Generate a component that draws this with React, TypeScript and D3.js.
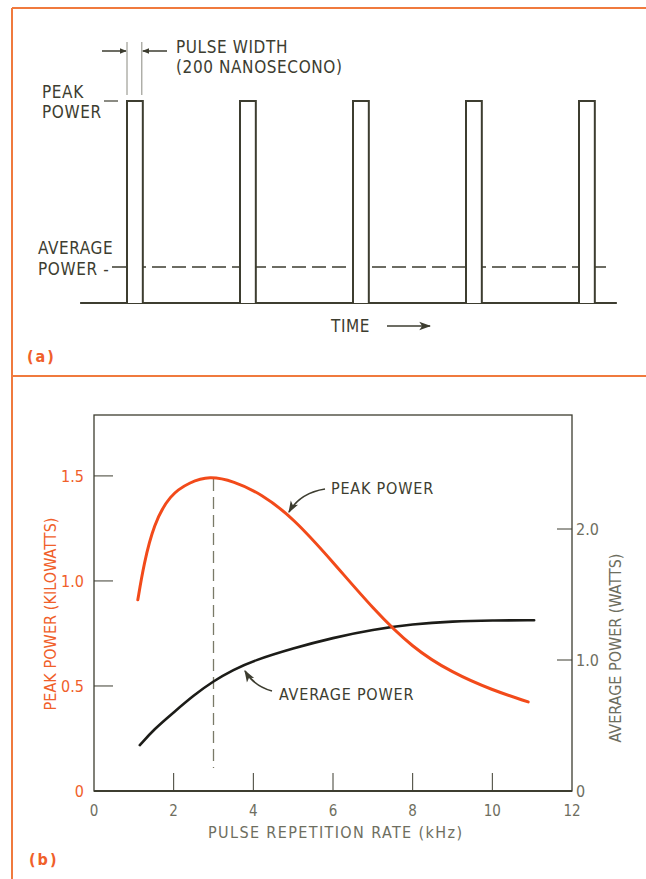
import React from "react";
import * as d3 from "d3";

// ---- Data ----
// (a) pulse train (time in pulse periods)
const pulseTimes = [1, 2, 3, 4, 5];
const pulseWidthT = 0.14;
const peakLevel = 1.0;
const averageLevel = 0.178;

// (b) curves
const peakX = [1.1, 1.25, 1.5, 1.9, 2.4, 2.9, 3.5, 4.2, 5.0, 6.0, 7.0, 8.0, 9.0, 10.0, 10.9];
const peakKW = [0.91, 1.08, 1.27, 1.41, 1.47, 1.5, 1.475, 1.415, 1.3, 1.09, 0.868, 0.68, 0.562, 0.48, 0.424];
const avgX = [1.15, 1.5, 2.0, 2.5, 3.0, 3.5, 4.0, 5.0, 6.0, 7.0, 8.0, 9.0, 10.0, 11.05];
const avgW = [0.35, 0.47, 0.6, 0.73, 0.84, 0.925, 0.995, 1.09, 1.17, 1.232, 1.274, 1.295, 1.302, 1.304];
const xTicks = [0, 2, 4, 6, 8, 10, 12];
const leftTicks = [0, 0.5, 1.0, 1.5];
const rightTicks = [0, 1.0, 2.0];
const markerX = 3.0;

const FONT = "'Liberation Sans Narrow','DejaVu Sans Condensed','Roboto Condensed',Arial,sans-serif";
const DARK = "#3d3d30";
const GRAY = "#6e6e60";
const ORANGE = "#f0602a";
const CURVE_OR = "#f24a1a";
const FRAME = "#f07a3e";

export default function App() {
  // top panel scales
  const tx = d3.scaleLinear().domain([0, 5]).range([14, 579]);
  const ty = d3.scaleLinear().domain([0, 1]).range([303, 101]);

  // bottom panel scales
  const x = d3.scaleLinear().domain([0, 12]).range([94, 572]);
  const yL = d3.scaleLinear().domain([0, 1.79]).range([791, 415]);
  const yR = d3.scaleLinear().domain([0, 1]).range([791, 660]);

  const peakLine = d3
    .line<number>()
    .x((_, i) => x(peakX[i]))
    .y((d) => yL(d))
    .curve(d3.curveBasis);
  const avgLine = d3
    .line<number>()
    .x((_, i) => x(avgX[i]))
    .y((d) => yR(d))
    .curve(d3.curveBasis);

  const pw = tx(pulseWidthT) - tx(0);

  return (
    <svg
      width={646}
      height={879}
      style={{ position: "absolute", left: 0, top: 0, background: "#fff" }}
      fontFamily={FONT}
    >
      <defs>
        <marker id="ah" viewBox="0 0 10 10" refX="9" refY="5" markerWidth="7" markerHeight="7" orient="auto-start-reverse" markerUnits="userSpaceOnUse">
          <path d="M0,1 L10,5 L0,9 z" fill={DARK} />
        </marker>
        <marker id="ah2" viewBox="0 0 10 10" refX="9" refY="5" markerWidth="12" markerHeight="12" orient="auto" markerUnits="userSpaceOnUse">
          <path d="M0,1.5 L10,5 L0,8.5 L2.5,5 z" fill={DARK} />
        </marker>
      </defs>

      {/* frame */}
      <line x1={12} y1={8} x2={646} y2={8} stroke={FRAME} strokeWidth={2} />
      <line x1={12} y1={8} x2={12} y2={879} stroke={FRAME} strokeWidth={2} />
      <line x1={12} y1={376} x2={646} y2={376} stroke={FRAME} strokeWidth={2} />

      {/* ===== (a) ===== */}
      <line x1={tx(0.585)} y1={ty(0)} x2={tx(5.335)} y2={ty(0)} stroke={DARK} strokeWidth={2} />
      <line
        x1={112}
        y1={ty(averageLevel)}
        x2={tx(5.285)}
        y2={ty(averageLevel)}
        stroke={DARK}
        strokeWidth={1.5}
        strokeDasharray="14 6"
      />
      {pulseTimes.map((t) => (
        <path
          key={t}
          d={`M${tx(t)},${ty(0)} V${ty(peakLevel)} H${tx(t) + pw} V${ty(0)}`}
          fill="#fff"
          stroke={DARK}
          strokeWidth={2}
        />
      ))}
      {/* peak tick */}
      <line x1={104} y1={ty(peakLevel)} x2={118} y2={ty(peakLevel)} stroke={DARK} strokeWidth={1.2} />
      {/* pulse width marker */}
      <line x1={tx(1)} y1={42} x2={tx(1)} y2={95} stroke="#8a8a80" strokeWidth={1} />
      <line x1={tx(1) + pw - 1} y1={42} x2={tx(1) + pw - 1} y2={95} stroke="#8a8a80" strokeWidth={1} />
      <line x1={102} y1={51} x2={tx(1) - 1} y2={51} stroke={DARK} strokeWidth={1.5} markerEnd="url(#ah)" />
      <line x1={167} y1={51} x2={tx(1) + pw} y2={51} stroke={DARK} strokeWidth={1.5} markerEnd="url(#ah)" />

      <g fill={DARK} fontSize={17} letterSpacing={0.6}>
        <text x={176} y={53}>PULSE WIDTH</text>
        <text x={176} y={73}>(200 NANOSECONO)</text>
        <text x={42} y={98}>PEAK</text>
        <text x={42} y={118}>POWER</text>
        <text x={38} y={254}>AVERAGE</text>
        <text x={38} y={275}>POWER -</text>
        <text x={331} y={332}>TIME</text>
      </g>
      <line x1={387} y1={326} x2={430} y2={326} stroke={DARK} strokeWidth={1.5} markerEnd="url(#ah2)" />
      <text x={27} y={362} fill={ORANGE} fontSize={16} fontWeight="bold" letterSpacing={2}>
        (a)
      </text>

      {/* ===== (b) ===== */}
      <rect x={x(0)} y={yL(1.79)} width={x(12) - x(0)} height={yL(0) - yL(1.79)} fill="none" stroke={DARK} strokeWidth={1.3} />
      <line x1={x(0)} y1={yL(0)} x2={x(12)} y2={yL(0)} stroke={DARK} strokeWidth={2.2} />

      {xTicks.slice(1, -1).map((t) => (
        <line key={t} x1={x(t)} y1={yL(0)} x2={x(t)} y2={yL(0) - 18} stroke={DARK} strokeWidth={1} />
      ))}
      {leftTicks.slice(1).map((t) => (
        <line key={t} x1={x(0)} y1={yL(t)} x2={x(0) + 19} y2={yL(t)} stroke={DARK} strokeWidth={1} />
      ))}
      {rightTicks.slice(1).map((t) => (
        <line key={t} x1={x(12)} y1={yR(t)} x2={x(12) - 15} y2={yR(t)} stroke={DARK} strokeWidth={1} />
      ))}

      {/* marker dashed line */}
      <line
        x1={x(markerX)}
        y1={yL(1.485)}
        x2={x(markerX)}
        y2={768}
        stroke="#7a7a68"
        strokeWidth={1.3}
        strokeDasharray="12 6"
      />

      <path d={avgLine(avgW) || ""} fill="none" stroke="#1c1c18" strokeWidth={2.6} strokeLinecap="round" />
      <path d={peakLine(peakKW) || ""} fill="none" stroke={CURVE_OR} strokeWidth={3} strokeLinecap="round" />

      {/* tick labels */}
      <g fill={GRAY} fontSize={15} textAnchor="middle">
        {xTicks.map((t) => (
          <text key={t} x={x(t)} y={816}>
            {t}
          </text>
        ))}
      </g>
      <g fill={ORANGE} fontSize={16} textAnchor="end">
        {leftTicks.map((t) => (
          <text key={t} x={84} y={yL(t) + 6}>
            {t === 0 ? "0" : t.toFixed(1)}
          </text>
        ))}
      </g>
      <g fill={GRAY} fontSize={16} textAnchor="start">
        {rightTicks.map((t) => (
          <text key={t} x={576} y={yR(t) + 6}>
            {t === 0 ? "0" : t.toFixed(1)}
          </text>
        ))}
      </g>

      {/* axis titles */}
      <text x={335} y={838} fill={GRAY} fontSize={16} textAnchor="middle" textLength={254} lengthAdjust="spacing">
        PULSE REPETITION RATE  (kHz)
      </text>
      <text
        transform="translate(56,614) rotate(-90)"
        fill={ORANGE}
        fontSize={16}
        textAnchor="middle"
        textLength={193}
        lengthAdjust="spacing"
      >
        PEAK POWER  (KILOWATTS)
      </text>
      <text
        transform="translate(621,648) rotate(-90)"
        fill={GRAY}
        fontSize={16}
        textAnchor="middle"
        textLength={189}
        lengthAdjust="spacing"
      >
        AVERAGE POWER  (WATTS)
      </text>

      {/* annotations */}
      <g fill={DARK} fontSize={16} letterSpacing={0.8}>
        <text x={331} y={494}>PEAK POWER</text>
        <text x={279} y={700}>AVERAGE POWER</text>
      </g>
      <path d="M325,489 Q300,493 289,512" fill="none" stroke={DARK} strokeWidth={1.6} markerEnd="url(#ah2)" />
      <path d="M272,691 Q254,686 245,671" fill="none" stroke={DARK} strokeWidth={1.6} markerEnd="url(#ah2)" />

      <text x={29} y={865} fill={ORANGE} fontSize={16} fontWeight="bold" letterSpacing={2}>
        (b)
      </text>
    </svg>
  );
}
